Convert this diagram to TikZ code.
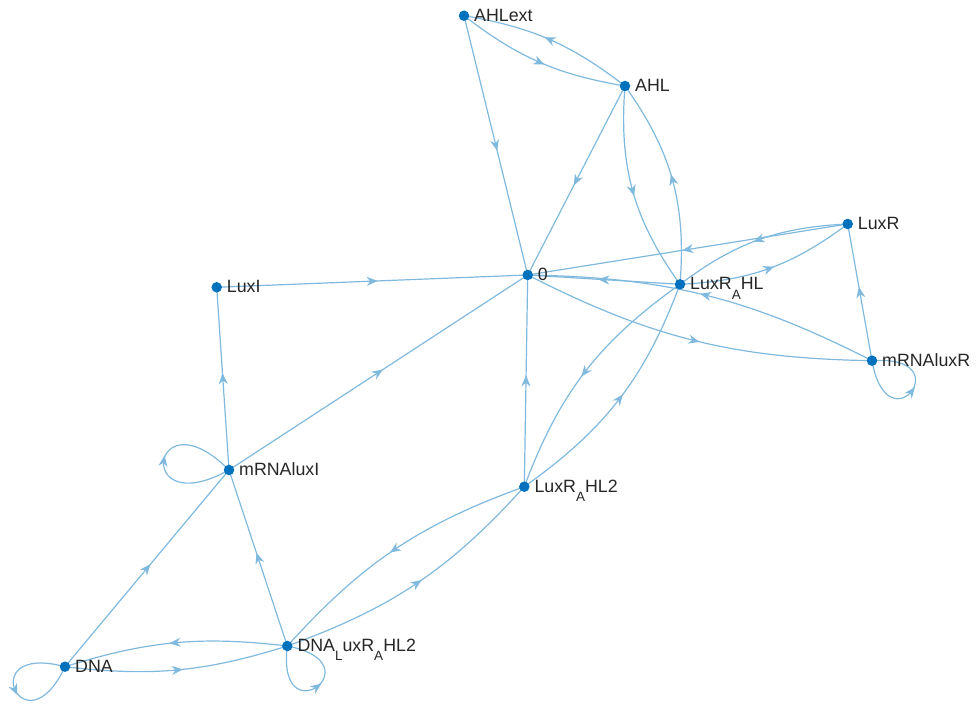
\documentclass[tikz,border=0pt]{standalone}
\usepackage{fontspec}
\setmainfont{Liberation Sans}
\usetikzlibrary{arrows.meta,decorations.markings,calc}
\definecolor{nodeblue}{RGB}{0,114,189}
\definecolor{edgeblue}{RGB}{128,185,222}
\definecolor{labelgray}{RGB}{38,38,38}
% lowered subscript as used in the node names
\newcommand{\lsub}[1]{\raisebox{-9.5pt}{\fontsize{13.5}{13.5}\selectfont #1}}
\pgfdeclarelayer{edges}
\pgfsetlayers{edges,main}
\tikzset{
  dot/.style={circle, fill=nodeblue, inner sep=0pt, minimum size=10.5pt},
  lbl/.style={anchor=base west, inner sep=0pt, text=labelgray,
    font=\fontsize{17.8}{20}\selectfont},
  edge/.style={draw=edgeblue, line width=1.2pt, postaction={decorate},
    decoration={markings, mark=at position 0.5 with
      {\pgftransformxshift{5.5pt}\arrow{Stealth[length=11pt,width=9pt,inset=3.5pt,color=edgeblue]}}}},
}
\begin{document}
\begin{tikzpicture}[x=1pt,y=1pt]
\path[use as bounding box] (0,0) rectangle (977,706);

% species
\node[dot] (AHLext)   at (464,690.3) {};
\node[dot] (AHL)      at (625,620) {};
\node[dot] (LuxR)     at (847.7,482) {};
\node[dot] (n0)       at (527.7,431) {};
\node[dot] (LuxRAHL)  at (680,421.7) {};
\node[dot] (LuxI)     at (216.7,418.7) {};
\node[dot] (mRNAluxR) at (872,345.3) {};
\node[dot] (mRNAluxI) at (229,236) {};
\node[dot] (LuxRAHL2) at (524.3,219.3) {};
\node[dot] (DNA)      at (65,39.3) {};
\node[dot] (DNAL)     at (287.3,60) {};

% names
\node[lbl] (tAHLext)   at ($(AHLext)+(10,-5.5)$) {AHLext};
\node[lbl] (tAHL)      at ($(AHL)+(10,-5.5)$) {AHL};
\node[lbl] (tLuxR)     at ($(LuxR)+(10,-5.5)$) {LuxR};
\node[lbl] (tn0)       at ($(n0)+(10,-5.5)$) {0};
\node[lbl] (tLuxRAHL)  at ($(LuxRAHL)+(10,-5.5)$) {LuxR\lsub{A}HL};
\node[lbl] (tLuxI)     at ($(LuxI)+(10,-5.5)$) {LuxI};
\node[lbl] (tmRNAluxR) at ($(mRNAluxR)+(10,-5.5)$) {mRNAluxR};
\node[lbl] (tmRNAluxI) at ($(mRNAluxI)+(10,-5.5)$) {mRNAluxI};
\node[lbl] (tLuxRAHL2) at ($(LuxRAHL2)+(10,-5.5)$) {LuxR\lsub{A}HL2};
\node[lbl] (tDNA)      at ($(DNA)+(10,-5.5)$) {DNA};
\node[lbl] (tDNAL)     at ($(DNAL)+(10,-5.5)$) {DNA\lsub{L}uxR\lsub{A}HL2};

\begin{pgfonlayer}{edges}
% reversible pairs
\draw[edge] (AHLext.center) to[bend right=14] (AHL.center);
\draw[edge] (AHL.center) to[bend right=14] (AHLext.center);
\draw[edge] (AHL.center) to[bend right=20] (LuxRAHL.center);
\draw[edge] (LuxRAHL.center) to[bend right=20] (AHL.center);
\draw[edge] (LuxR.center) to[bend right=17] (LuxRAHL.center);
\draw[edge] (LuxRAHL.center) to[bend right=17] (LuxR.center);
\draw[edge] (LuxRAHL.center) to[bend right=17] (LuxRAHL2.center);
\draw[edge] (LuxRAHL2.center) to[bend right=17] (LuxRAHL.center);
\draw[edge] (LuxRAHL2.center) to[bend right=14] (DNAL.center);
\draw[edge] (DNAL.center) to[bend right=14] (LuxRAHL2.center);
\draw[edge] (DNA.center) to[bend right=12] (DNAL.center);
\draw[edge] (DNAL.center) to[bend right=12] (DNA.center);
\draw[edge] (mRNAluxR.center) to[bend right=13] (n0.center);
\draw[edge] (n0.center) to[bend right=13] (mRNAluxR.center);
% one-way reactions
\draw[edge] (AHLext.center) -- (n0.center);
\draw[edge] (AHL.center) -- (n0.center);
\draw[edge] (LuxR.center) -- (n0.center);
\draw[edge] (LuxRAHL.center) -- (n0.center);
\draw[edge] (mRNAluxR.center) -- (LuxR.center);
\draw[edge] (LuxI.center) -- (n0.center);
\draw[edge] (mRNAluxI.center) -- (LuxI.center);
\draw[edge] (mRNAluxI.center) -- (n0.center);
\draw[edge] (DNA.center) -- (mRNAluxI.center);
\draw[edge] (DNAL.center) -- (mRNAluxI.center);
\draw[edge] (LuxRAHL2.center) -- (n0.center);
% self loops
\draw[edge] (mRNAluxI.center) .. controls ($(mRNAluxI.center)+(209:110)$) and ($(mRNAluxI.center)+(135:110)$) .. (mRNAluxI.center);
\draw[edge] (mRNAluxR.center) .. controls ($(mRNAluxR.center)+(-80:90)$) and ($(mRNAluxR.center)+(4:90)$) .. (mRNAluxR.center);
\draw[edge] (DNA.center) .. controls ($(DNA.center)+(165:96)$) and ($(DNA.center)+(245:96)$) .. (DNA.center);
\draw[edge] (DNAL.center) .. controls ($(DNAL.center)+(-97:92)$) and ($(DNAL.center)+(-11:92)$) .. (DNAL.center);
\end{pgfonlayer}
\end{tikzpicture}
\end{document}
